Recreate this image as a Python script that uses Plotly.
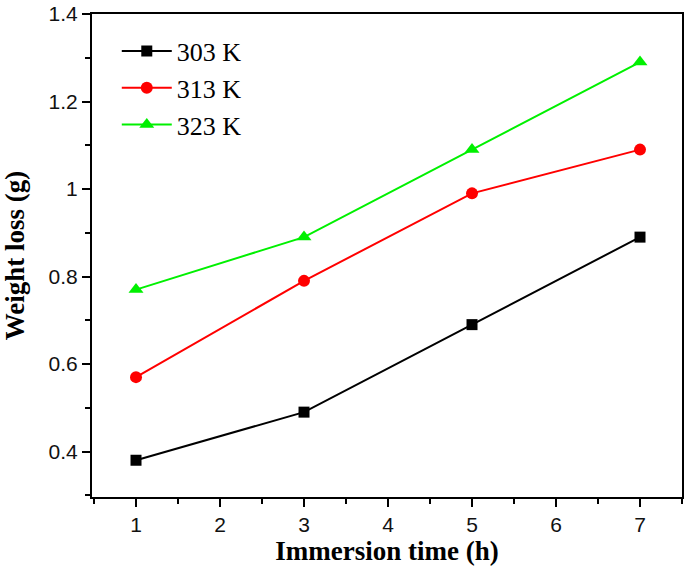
import plotly.graph_objects as go

time_h = [1, 3, 5, 7]
loss_303 = [0.38, 0.49, 0.69, 0.89]
loss_313 = [0.57, 0.79, 0.99, 1.09]
loss_323 = [0.77, 0.89, 1.09, 1.29]
series_names = ["303 K", "313 K", "323 K"]

fig = go.Figure()
styles = [("#000000", "square", 11), ("#ff0000", "circle", 12), ("#00f000", "triangle-up", 13)]
for name, ys, (col, sym, sz) in zip(series_names, [loss_303, loss_313, loss_323], styles):
    fig.add_trace(go.Scatter(
        x=time_h, y=ys, name=name, mode="lines+markers",
        line=dict(color=col, width=2),
        marker=dict(symbol=sym, size=sz, color=col),
    ))

axis_common = dict(
    showline=True, linecolor="#000000", linewidth=2, mirror=True,
    ticks="outside", ticklen=8, tickwidth=2, tickcolor="#000000",
    showgrid=False, zeroline=False, automargin=False,
    tickfont=dict(family="Liberation Sans, Arial", size=21, color="#111111"),
)

fig.update_xaxes(
    range=[0.476, 7.5], tickmode="linear", tick0=1, dtick=1,
    minor=dict(ticks="outside", ticklen=5, tickwidth=2, tickcolor="#000000", dtick=0.5, tick0=0.5, showgrid=False),
    title=dict(text="<b>Immersion time (h)</b>", font=dict(family="Liberation Serif, Times New Roman", size=27, color="#000000"), standoff=6),
    **axis_common,
)
fig.update_yaxes(
    range=[0.296, 1.4], tickmode="array", tickvals=[0.4, 0.6, 0.8, 1.0, 1.2, 1.4],
    ticktext=["0.4", "0.6", "0.8", "1", "1.2", "1.4"],
    minor=dict(ticks="outside", ticklen=5, tickwidth=2, tickcolor="#000000", tickvals=[0.3, 0.5, 0.7, 0.9, 1.1, 1.3], showgrid=False),
    title=dict(text="<b>Weight loss (g)</b>", font=dict(family="Liberation Serif, Times New Roman", size=27, color="#000000"), standoff=19),
    **axis_common,
)

fig.update_layout(
    width=685, height=574,
    margin=dict(l=92, r=3, t=14, b=77, autoexpand=False),
    paper_bgcolor="white", plot_bgcolor="white",
    legend=dict(
        x=0.042, y=0.972, xanchor="left", yanchor="top",
        font=dict(family="Liberation Serif, Times New Roman", size=26, color="#000000"),
        bgcolor="rgba(0,0,0,0)", itemwidth=50, tracegroupgap=0,
    ),
    showlegend=True,
)

fig.write_html(
    "out.html",
    config={"displayModeBar": False},
    post_script="document.body.style.margin='0';document.body.style.overflow='hidden';",
)
